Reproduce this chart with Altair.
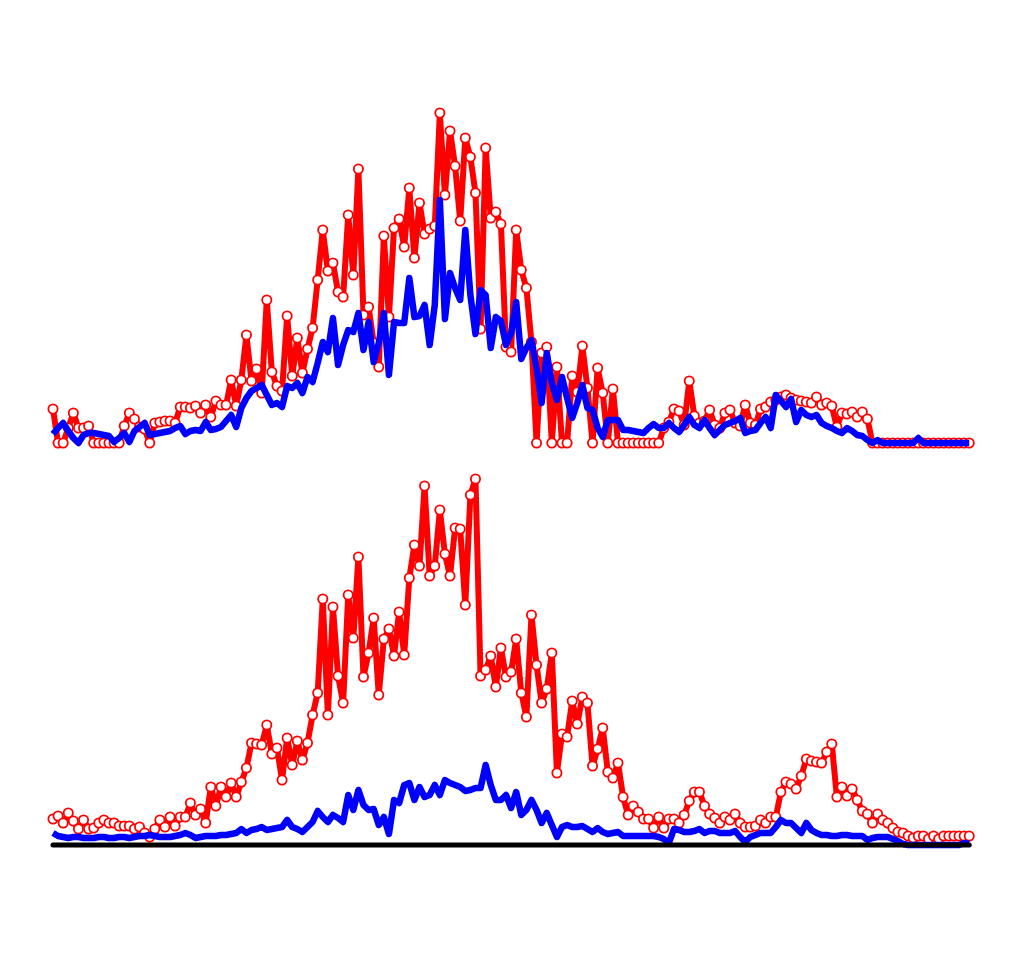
import altair as alt
import pandas as pd

# Heights above each panel's baseline (arbitrary units)
top_red = [34, 0, 0, 15, 30, 15, 15, 17, 0, 0, 0, 0, 0, 0, 17, 30, 24, 16, 14, 0,
           20, 21, 22, 22, 20, 36, 36, 35, 37, 30, 38, 26, 42, 38, 38, 63, 37, 63, 108, 62,
           74, 50, 143, 71, 57, 52, 127, 67, 105, 70, 94, 115, 163, 213, 172, 180, 151, 146, 228, 168,
           274, 128, 136, 100, 76, 207, 126, 215, 224, 196, 255, 185, 240, 209, 214, 217, 330, 248, 312, 277,
           222, 305, 286, 250, 114, 295, 225, 231, 219, 96, 91, 213, 173, 155, 101, 0, 90, 96, 0, 76,
           0, 0, 67, 51, 97, 55, 0, 75, 50, 0, 54, 0, 0, 0, 0, 0, 0, 0, 0, 0,
           15, 21, 34, 32, 18, 62, 27, 20, 22, 33, 18, 15, 30, 33, 20, 17, 38, 20, 18, 34,
           36, 41, 43, 46, 48, 45, 43, 42, 41, 40, 46, 38, 40, 37, 16, 30, 29, 31, 26, 31,
           24, 0, 0, 0, 0, 0, 0, 0, 0, 0, 0, 0, 0, 0, 0, 0, 0, 0, 0, 0, 0]

top_blue = [9, 15, 20, 12, 5, 0, 8, 10, 10, 9, 8, 7, 1, 5, 10, 1, 12, 16, 20, 8,
            9, 10, 11, 12, 15, 17, 9, 12, 13, 12, 21, 13, 14, 16, 22, 28, 16, 35, 45, 52,
            55, 58, 48, 38, 40, 36, 57, 55, 60, 50, 66, 61, 80, 101, 91, 125, 78, 98, 113, 111,
            130, 93, 121, 81, 100, 130, 68, 121, 120, 120, 165, 126, 127, 138, 98, 138, 243, 124, 170, 155,
            143, 213, 148, 109, 153, 148, 95, 126, 122, 98, 110, 141, 84, 95, 103, 75, 40, 90, 60, 43,
            66, 45, 25, 40, 58, 35, 33, 15, 6, 23, 23, 23, 13, 13, 12, 11, 10, 15, 19, 15,
            15, 20, 15, 11, 18, 26, 18, 15, 23, 15, 8, 13, 18, 20, 22, 25, 10, 12, 13, 20,
            26, 15, 48, 42, 36, 44, 21, 33, 28, 26, 28, 20, 17, 15, 12, 10, 15, 12, 8, 7,
            3, 0, 3, 0, 0, 0, 0, 0, 0, 0, 5, 0, 0, 0, 0, 0, 0, 0, 0, 0, 0]

bottom_red = [26, 29, 22, 32, 24, 16, 25, 16, 17, 22, 25, 22, 22, 19, 19, 19, 16, 18, 12, 8,
              16, 25, 18, 28, 19, 28, 28, 42, 30, 36, 22, 58, 39, 58, 48, 62, 48, 63, 77, 102,
              101, 100, 120, 91, 97, 65, 107, 80, 104, 85, 102, 130, 152, 246, 130, 238, 169, 142, 250, 207,
              288, 168, 192, 227, 150, 206, 216, 189, 233, 190, 267, 300, 279, 359, 269, 279, 335, 291, 269, 317,
              316, 240, 350, 366, 169, 175, 189, 158, 197, 168, 173, 206, 152, 128, 230, 180, 142, 156, 192, 72,
              111, 108, 144, 121, 148, 142, 79, 96, 117, 73, 67, 82, 48, 30, 39, 33, 26, 26, 17, 28,
              17, 26, 26, 22, 30, 44, 53, 53, 39, 31, 27, 22, 28, 25, 31, 22, 18, 18, 19, 25,
              22, 28, 28, 53, 63, 61, 56, 69, 86, 84, 83, 82, 93, 101, 48, 58, 49, 56, 45, 34,
              31, 22, 31, 25, 22, 17, 13, 12, 9, 7, 9, 9, 6, 9, 6, 9, 9, 9, 9, 9, 9]

bottom_blue = [12, 9, 8, 7, 8, 8, 7, 7, 7, 8, 8, 7, 7, 8, 8, 7, 8, 9, 9, 10,
               9, 8, 8, 8, 9, 10, 12, 10, 7, 8, 9, 9, 9, 10, 10, 11, 12, 16, 12, 15,
               16, 18, 15, 16, 17, 18, 25, 18, 16, 13, 18, 23, 34, 28, 23, 30, 27, 23, 50, 35,
               55, 40, 35, 36, 20, 28, 11, 45, 42, 60, 62, 45, 58, 48, 50, 60, 50, 65, 62, 60,
               58, 54, 55, 57, 57, 80, 60, 45, 45, 50, 37, 53, 30, 35, 45, 35, 22, 32, 20, 8,
               18, 20, 18, 18, 19, 16, 13, 17, 13, 11, 12, 13, 9, 9, 9, 9, 9, 9, 9, 8,
               6, 2, 16, 15, 13, 13, 14, 16, 12, 14, 14, 12, 12, 12, 14, 8, 3, 8, 10, 12,
               12, 12, 18, 25, 22, 22, 17, 12, 22, 15, 12, 10, 10, 9, 9, 10, 10, 9, 9, 9,
               5, 7, 8, 8, 8, 6, 4, 1, 0, 0, 0, 0, 0, 0, 0, 0, 0, 0, 0, 2, 1]

n = len(top_red)
idx = list(range(n))
df_top = pd.DataFrame({"i": idx, "red": top_red, "blue": top_blue})
df_bot = pd.DataFrame({"i": idx, "red": bottom_red, "blue": bottom_blue})

xscale = alt.Scale(domain=[-8.84, 189.19], nice=False, zero=False)


def panel(df, ymax, height, baseline_rule):
    ys = alt.Scale(domain=[0, ymax], nice=False, zero=False)
    base = alt.Chart(df)
    x = alt.X("i:Q", scale=xscale, axis=None)
    red_line = base.mark_line(color="#ff0000", strokeWidth=6, strokeJoin="round").encode(
        x=x, y=alt.Y("red:Q", scale=ys, axis=None))
    red_pts = base.mark_point(shape="circle", filled=True, fill="#ffffff", stroke="#ff0000",
                              strokeWidth=1.8, size=85, opacity=1).encode(
        x=x, y=alt.Y("red:Q", scale=ys, axis=None))
    blue_line = base.mark_line(color="#0000ff", strokeWidth=6.5, strokeJoin="round").encode(
        x=x, y=alt.Y("blue:Q", scale=ys, axis=None))
    layers = [red_line, red_pts, blue_line]
    if baseline_rule:
        rule_df = pd.DataFrame({"a": [0], "b": [n - 1], "y": [0]})
        rule = alt.Chart(rule_df).mark_rule(color="#000000", strokeWidth=5, strokeCap="round").encode(
            x=alt.X("a:Q", scale=xscale, axis=None), x2="b:Q",
            y=alt.Y("y:Q", scale=ys, axis=None))
        layers.append(rule)
    return alt.layer(*layers).properties(width=1008, height=height)


top = panel(df_top, 435, 435, False)
bottom = panel(df_bot, 402, 402, True)

chart = alt.vconcat(top, bottom, spacing=0, bounds="flush").properties(padding=0).configure_view(strokeWidth=0)
chart.save("out.html", embed_options={"renderer": "svg", "actions": False})
